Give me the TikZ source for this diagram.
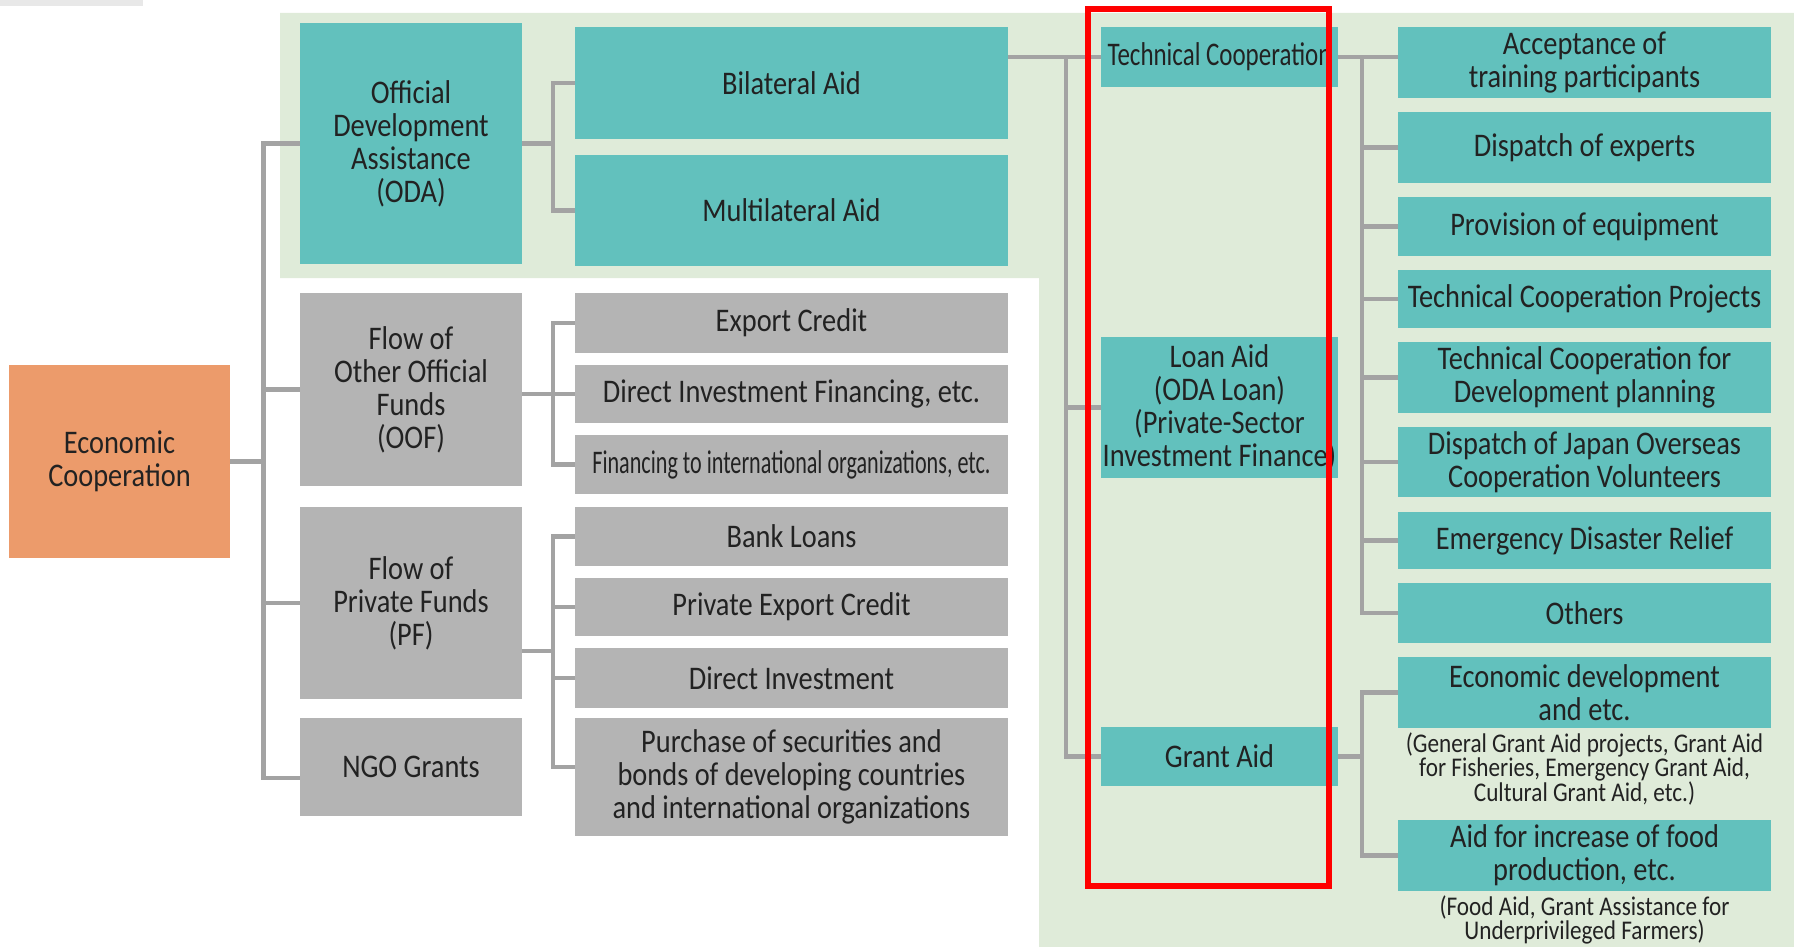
\documentclass[tikz,border=0pt]{standalone}
\usepackage{fontspec}
\setmainfont{Carlito}[FakeStretch=0.86]
\usepackage{graphicx}

\definecolor{odateal}{HTML}{62C1BD}
\definecolor{flowgrey}{HTML}{B4B4B4}
\definecolor{ecoorange}{HTML}{EC9B6B}
\definecolor{panelgreen}{HTML}{DFEBD9}
\definecolor{linkgrey}{HTML}{A3A3A3}
\definecolor{inkgrey}{HTML}{222222}

\begin{document}
\begin{tikzpicture}[x=1pt, y=-1pt,
  box/.style={rectangle, inner sep=0pt, align=center, text=inkgrey,
    font=\fontsize{33}{33}\selectfont},
  tealbox/.style={box, fill=odateal},
  greybox/.style={box, fill=flowgrey},
  note/.style={inner sep=0pt, align=center, text=inkgrey,
    font=\fontsize{27}{24}\selectfont},
  link/.style={draw=linkgrey, line width=4.5pt},
  hilite/.style={draw=red, line width=6pt, inner sep=0pt}]

  \useasboundingbox (0,0) rectangle (1794,947);

  % ODA panel in the background
  \fill[panelgreen] (280,13) -- (1794,13) -- (1794,947) -- (1039,947)
    -- (1039,278) -- (280,278) -- cycle;
  \fill[black!9] (0,0) rectangle (143,6);

  % First level
  \node[box, fill=ecoorange, minimum width=221, minimum height=193] (eco) at (119.5,461.5) {Economic\\Cooperation};

  % Second level
  \node[tealbox, minimum width=222, minimum height=241] (oda) at (411,143.5) {Official\\Development\\Assistance\\(ODA)};
  \node[greybox, minimum width=222, minimum height=193] (oof) at (411,389.5) {Flow of\\Other Official\\Funds\\(OOF)};
  \node[greybox, minimum width=222, minimum height=192] (pf) at (411,603) {Flow of\\Private Funds\\(PF)};
  \node[greybox, minimum width=222, minimum height=98] (ngo) at (411,767) {NGO Grants};

  % Third level
  \node[tealbox, minimum width=433, minimum height=112] (bil) at (791.5,83) {Bilateral Aid};
  \node[tealbox, minimum width=433, minimum height=111] (mul) at (791.5,210.5) {Multilateral Aid};
  \node[greybox, minimum width=433, minimum height=60] (exp) at (791.5,323) {Export Credit};
  \node[greybox, minimum width=433, minimum height=58] (dif) at (791.5,394) {Direct Investment Financing, etc.};
  \node[greybox, minimum width=433, minimum height=59] (fio) at (791.5,464.5) {\scalebox{0.78}[1]{Financing to international organizations, etc.}};
  \node[greybox, minimum width=433, minimum height=59] (bank) at (791.5,536.5) {Bank Loans};
  \node[greybox, minimum width=433, minimum height=58] (pec) at (791.5,607) {Private Export Credit};
  \node[greybox, minimum width=433, minimum height=60] (dinv) at (791.5,678) {Direct Investment};
  \node[greybox, minimum width=433, minimum height=118] (pur) at (791.5,777) {Purchase of securities and\\bonds of developing countries\\and international organizations};

  % Forms of bilateral aid
  \node[tealbox, minimum width=237, minimum height=60] (tc) at (1219.5,57) {\scalebox{0.88}[1]{Technical Cooperation}};
  \node[tealbox, minimum width=237, minimum height=141] (loan) at (1219.5,407.5) {Loan Aid\\(ODA Loan)\\(Private-Sector\\Investment Finance)};
  \node[tealbox, minimum width=237, minimum height=59] (grant) at (1219.5,756.5) {Grant Aid};

  % Technical cooperation schemes
  \node[tealbox, minimum width=373, minimum height=71] (acc) at (1584.5,62.5) {Acceptance of\\training participants};
  \node[tealbox, minimum width=373, minimum height=71] (dex) at (1584.5,147.5) {Dispatch of experts};
  \node[tealbox, minimum width=373, minimum height=59] (peq) at (1584.5,226.5) {Provision of equipment};
  \node[tealbox, minimum width=373, minimum height=58] (tcp) at (1584.5,299) {Technical Cooperation Projects};
  \node[tealbox, minimum width=373, minimum height=71] (tcd) at (1584.5,377.5) {Technical Cooperation for\\Development planning};
  \node[tealbox, minimum width=373, minimum height=70] (jocv) at (1584.5,462) {Dispatch of Japan Overseas\\Cooperation Volunteers};
  \node[tealbox, minimum width=373, minimum height=57] (edr) at (1584.5,540.5) {Emergency Disaster Relief};
  \node[tealbox, minimum width=373, minimum height=60] (oth) at (1584.5,613) {Others};

  % Grant aid schemes
  \node[tealbox, minimum width=373, minimum height=71] (ecd) at (1584.5,692.5) {Economic development\\and etc.};
  \node[note] (ecdnote) at (1584.5,769) {(General Grant Aid projects, Grant Aid\\for Fisheries, Emergency Grant Aid,\\Cultural Grant Aid, etc.)};
  \node[tealbox, minimum width=373, minimum height=71] (food) at (1584.5,855.5) {Aid for increase of food\\production, etc.};
  \node[note] (foodnote) at (1584.5,920) {(Food Aid, Grant Assistance for\\Underprivileged Farmers)};

  % Connectors
  \coordinate (trunk) at (263.5,0);
  \coordinate (midbus) at (553,0);
  \coordinate (aidbus) at (1066,0);
  \coordinate (tcbus) at (1362,0);
  \coordinate (ngoin) at ([yshift=-11pt]ngo.west);
  \coordinate (pfout) at ([yshift=-48pt]pf.east);
  \coordinate (purin) at ([yshift=10pt]pur.west);

  \draw[link] (eco.east) -- (eco.east -| trunk);
  \draw[link] (oda.west) -- (oda.west -| trunk) -- (ngoin -| trunk) -- (ngoin);
  \foreach \n in {oof, pf}
    \draw[link] (\n.west -| trunk) -- (\n.west);

  \draw[link] (oda.east) -- (oda.east -| midbus);
  \draw[link] (bil.west) -| (midbus |- mul.west) -- (mul.west);
  \draw[link] (oof.east |- dif.west) -- (dif.west);
  \draw[link] (exp.west) -| (midbus |- fio.west) -- (fio.west);
  \draw[link] (pfout) -- (pfout -| midbus);
  \draw[link] (bank.west) -| (midbus |- purin) -- (purin);
  \foreach \n in {pec, dinv}
    \draw[link] (\n.west -| midbus) -- (\n.west);

  \draw[link] (bil.east |- tc.west) -- (tc.west);
  \draw[link] (tc.west -| aidbus) |- (grant.west);
  \draw[link] (loan.west -| aidbus) -- (loan.west);

  \draw[link] (tc.east) -- (acc.west |- tc.east);
  \draw[link] (tc.east -| tcbus) |- (oth.west);
  \foreach \n in {dex, peq, tcp, tcd, jocv, edr}
    \draw[link] (\n.west -| tcbus) -- (\n.west);
  \draw[link] (grant.east) -- (grant.east -| tcbus);
  \draw[link] (ecd.west) -| (tcbus |- food.west) -- (food.west);

  % Highlight frame
  \node[hilite, minimum width=241, minimum height=877] (frame) at (1208.5,447.5) {};

\end{tikzpicture}
\end{document}
